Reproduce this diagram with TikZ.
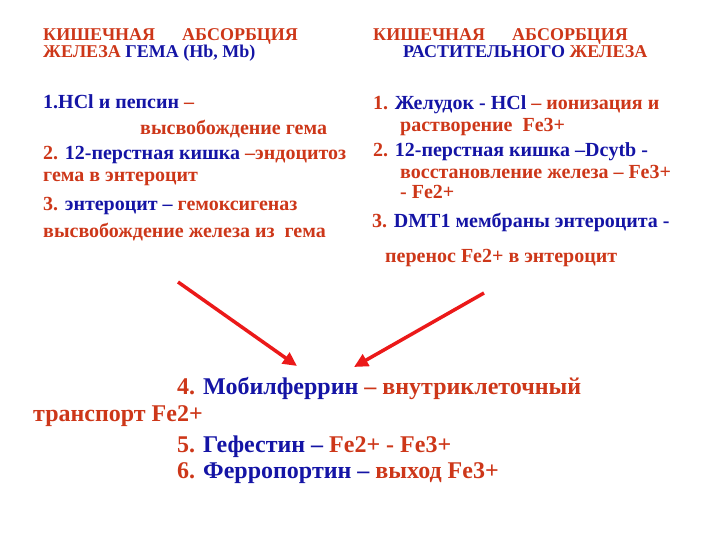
\documentclass[tikz,border=0pt]{standalone}
\usepackage{fontspec}
\setmainfont{Liberation Serif}
\usetikzlibrary{arrows.meta}
\definecolor{ochre}{RGB}{205,55,25}
\definecolor{navy}{RGB}{20,20,165}
\definecolor{arrowred}{RGB}{235,25,25}
\newcommand{\rt}[1]{\textcolor{ochre}{#1}}
\newcommand{\bt}[1]{\textcolor{navy}{#1}}

\begin{document}
\begin{tikzpicture}[x=1pt,y=-1pt,
    txt/.style={anchor=base west,inner sep=0pt,font=\bfseries\fontsize{20}{20}\selectfont},
    head/.style={txt,font=\bfseries\fontsize{18}{18}\selectfont},
    big/.style={txt,font=\bfseries\fontsize{24}{24}\selectfont},
    arr/.style={-{Triangle[length=14pt,width=13pt]},arrowred,line width=3.5pt}]
	\useasboundingbox (0,0) rectangle (720,540);

	% heme iron
	\node(h1) [head] at (43,41) {\rt{КИШЕЧНАЯ\hspace{27pt}АБСОРБЦИЯ}};
	\node(h2) [head] at (43,58) {\rt{ЖЕЛЕЗА} \bt{ГЕМА (Hb, Mb)}};
	\node(a1) [txt] at (43,109) {\bt{1.HCl и пепсин} \rt{–}};
	\node(a2) [txt] at (140,135) {\rt{высвобождение гема}};
	\node(a3) [txt] at (43,160) {\rt{2.} \bt{12-перстная кишка} \rt{–эндоцитоз}};
	\node(a4) [txt] at (43,182) {\rt{гема в энтероцит}};
	\node(a5) [txt] at (43,211) {\rt{3.} \bt{энтероцит –} \rt{гемоксигеназ}};
	\node(a6) [txt] at (43,237) {\rt{высвобождение железа из\ \ гема}};

	% plant iron
	\node(g1) [head] at (373,41) {\rt{КИШЕЧНАЯ\hspace{27pt}АБСОРБЦИЯ}};
	\node(g2) [head] at (403,58) {\bt{РАСТИТЕЛЬНОГО} \rt{ЖЕЛЕЗА}};
	\node(b1) [txt] at (373,110) {\rt{1.} \bt{Желудок - HCl} \rt{– ионизация и}};
	\node(b2) [txt] at (400,132) {\rt{растворение\ \ Fe3+}};
	\node(b3) [txt] at (373,157) {\rt{2.} \bt{12-перстная кишка –Dcytb -}};
	\node(b4) [txt] at (400,179) {\rt{восстановление железа – Fe3+}};
	\node(b5) [txt] at (400,199) {\rt{- Fe2+}};
	\node(b6) [txt] at (372,227) {\rt{3.} \bt{DMT1 мембраны энтероцита -}};
	\node(b7) [txt] at (385,262) {\rt{перенос Fe2+ в энтероцит}};

	% transport
	\node(c1) [big] at (177,394) {\rt{4.} \bt{Мобилферрин} \rt{– внутриклеточный}};
	\node(c2) [big] at (33,421) {\rt{транспорт Fe2+}};
	\node(c3) [big] at (177,452) {\rt{5.} \bt{Гефестин –} \rt{Fe2+ - Fe3+}};
	\node(c4) [big] at (177,478) {\rt{6.} \bt{Ферропортин –} \rt{выход Fe3+}};

	\coordinate(s1) at (178,282);
	\coordinate(e1) at (297,366);
	\coordinate(s2) at (484,293);
	\coordinate(e2) at (354,367);
	\draw[arr] (s1) -- (e1);
	\draw[arr] (s2) -- (e2);
\end{tikzpicture}
\end{document}
